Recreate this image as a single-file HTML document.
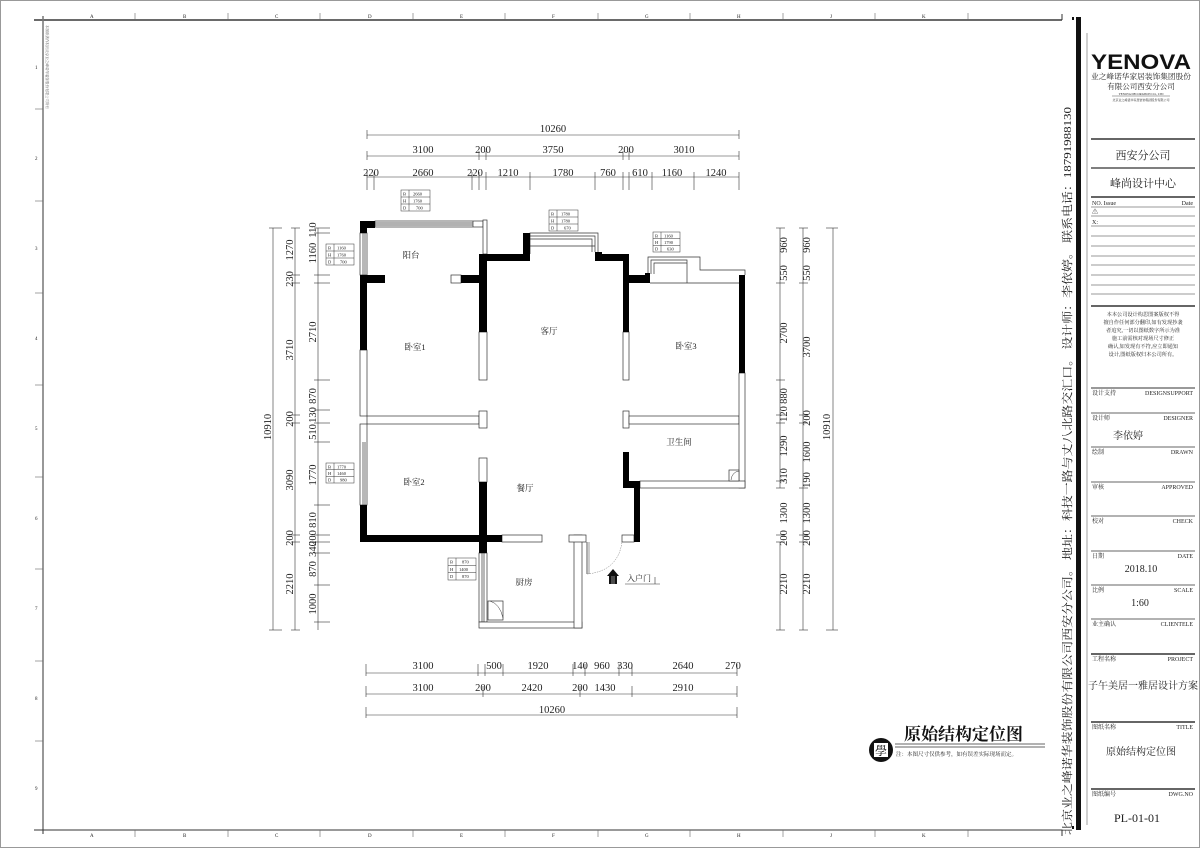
<!DOCTYPE html>
<html><head><meta charset="utf-8"><style>
html,body{margin:0;padding:0;background:#fff;}
svg{display:block;}
text{font-family:"Liberation Serif","Noto Serif CJK SC",serif;fill:#222;}
.d{font-size:10.5px;text-anchor:middle;}
.s{font-size:5px;}
.tb{font-size:6px;}
</style></head><body>
<svg width="1200" height="848" viewBox="0 0 1200 848" xmlns="http://www.w3.org/2000/svg">
<rect x="0.5" y="0.5" width="1199" height="847" fill="#fff" stroke="#999"/>
<!-- frame -->
<line x1="34" y1="20" x2="1062" y2="20" stroke="#111" stroke-width="1.2"/>
<line x1="43" y1="16" x2="43" y2="834" stroke="#777" stroke-width="1.5"/>
<line x1="34" y1="830" x2="1062" y2="830" stroke="#333" stroke-width="1"/>
<line x1="1062" y1="14" x2="1062" y2="20" stroke="#333"/>
<line x1="1062" y1="830" x2="1062" y2="836" stroke="#333"/>
<g stroke="#666" stroke-width="0.6">
<line x1="135" y1="13" x2="135" y2="20"/><line x1="228" y1="13" x2="228" y2="20"/><line x1="320" y1="13" x2="320" y2="20"/><line x1="413" y1="13" x2="413" y2="20"/><line x1="505" y1="13" x2="505" y2="20"/><line x1="598" y1="13" x2="598" y2="20"/><line x1="690" y1="13" x2="690" y2="20"/><line x1="783" y1="13" x2="783" y2="20"/><line x1="875" y1="13" x2="875" y2="20"/><line x1="968" y1="13" x2="968" y2="20"/>
<line x1="135" y1="830" x2="135" y2="837"/><line x1="228" y1="830" x2="228" y2="837"/><line x1="320" y1="830" x2="320" y2="837"/><line x1="413" y1="830" x2="413" y2="837"/><line x1="505" y1="830" x2="505" y2="837"/><line x1="598" y1="830" x2="598" y2="837"/><line x1="690" y1="830" x2="690" y2="837"/><line x1="783" y1="830" x2="783" y2="837"/><line x1="875" y1="830" x2="875" y2="837"/><line x1="968" y1="830" x2="968" y2="837"/>
<line x1="35" y1="109" x2="43" y2="109"/><line x1="35" y1="201" x2="43" y2="201"/><line x1="35" y1="293" x2="43" y2="293"/><line x1="35" y1="385" x2="43" y2="385"/><line x1="35" y1="477" x2="43" y2="477"/><line x1="35" y1="569" x2="43" y2="569"/><line x1="35" y1="661" x2="43" y2="661"/><line x1="35" y1="741" x2="43" y2="741"/>
</g>
<g class="s" fill="#777">
<text x="90" y="18">A</text><text x="183" y="18">B</text><text x="275" y="18">C</text><text x="368" y="18">D</text><text x="460" y="18">E</text><text x="552" y="18">F</text><text x="645" y="18">G</text><text x="737" y="18">H</text><text x="830" y="18">J</text><text x="922" y="18">K</text>
<text x="90" y="837">A</text><text x="183" y="837">B</text><text x="275" y="837">C</text><text x="368" y="837">D</text><text x="460" y="837">E</text><text x="552" y="837">F</text><text x="645" y="837">G</text><text x="737" y="837">H</text><text x="830" y="837">J</text><text x="922" y="837">K</text>
<text x="35" y="69">1</text><text x="35" y="160">2</text><text x="35" y="250">3</text><text x="35" y="340">4</text><text x="35" y="430">5</text><text x="35" y="520">6</text><text x="35" y="610">7</text><text x="35" y="700">8</text><text x="35" y="790">9</text>
</g>
<text x="46" y="25" transform="rotate(90 46 25)" style="font-size:3.5px;fill:#555">本图纸著作权归北京业之峰诺华装饰股份有限公司所有</text>
<!-- thick right black -->
<rect x="1076" y="17" width="5" height="813" fill="#111"/>
<rect x="1072" y="17" width="2" height="3" fill="#111"/>
<rect x="1072" y="826" width="2" height="3" fill="#111"/>
<line x1="1087" y1="33" x2="1087" y2="825" stroke="#888" stroke-width="0.8"/>
<text transform="translate(1071 835) rotate(-90)" style="font-size:11px" textLength="728" lengthAdjust="spacingAndGlyphs">北京业之峰诺华装饰股份有限公司西安分公司。 地址：科技一路与丈八北路交汇口。 设计师：李依婷。 联系电话：18791988130</text>

<!-- title block -->
<g>
<text x="1141" y="69" style="font-family:'Liberation Sans',sans-serif;font-size:21px;font-weight:bold;fill:#111" text-anchor="middle" textLength="100" lengthAdjust="spacingAndGlyphs">YENOVA</text>
<text x="1141" y="79" class="tb" text-anchor="middle" style="font-size:7.5px" textLength="100" lengthAdjust="spacingAndGlyphs">业之峰诺华家居装饰集团股份</text>
<text x="1141" y="89" class="tb" text-anchor="middle" style="font-size:7.5px">有限公司西安分公司</text>
<line x1="1112" y1="96" x2="1170" y2="96" stroke="#555" stroke-width="0.5"/>
<text x="1141" y="95" text-anchor="middle" style="font-size:3px">YENOVA DECORATION CO., LTD</text>
<text x="1141" y="101" text-anchor="middle" style="font-size:3px">北京业之峰诺华家居装饰集团股份有限公司</text>
<g stroke="#333">
<line x1="1091" y1="139" x2="1195" y2="139" stroke-width="1.5"/>
<line x1="1091" y1="168" x2="1195" y2="168" stroke-width="1.2"/>
<line x1="1091" y1="197" x2="1195" y2="197" stroke-width="1.5"/>
<line x1="1091" y1="207" x2="1195" y2="207" stroke-width="0.6"/>
<line x1="1091" y1="216" x2="1195" y2="216" stroke-width="0.6"/>
<line x1="1091" y1="226" x2="1195" y2="226" stroke-width="0.6"/>
<line x1="1091" y1="236" x2="1195" y2="236" stroke-width="0.6"/>
<line x1="1091" y1="246" x2="1195" y2="246" stroke-width="0.6"/>
<line x1="1091" y1="256" x2="1195" y2="256" stroke-width="0.6"/>
<line x1="1091" y1="265" x2="1195" y2="265" stroke-width="0.6"/>
<line x1="1091" y1="275" x2="1195" y2="275" stroke-width="0.6"/>
<line x1="1091" y1="285" x2="1195" y2="285" stroke-width="0.6"/>
<line x1="1091" y1="294" x2="1195" y2="294" stroke-width="0.6"/>
<line x1="1091" y1="306" x2="1195" y2="306" stroke-width="1.4"/>
<line x1="1091" y1="388" x2="1195" y2="388" stroke-width="1"/>
<line x1="1091" y1="413" x2="1195" y2="413" stroke-width="0.7"/>
<line x1="1091" y1="447" x2="1195" y2="447" stroke-width="0.7"/>
<line x1="1091" y1="482" x2="1195" y2="482" stroke-width="0.7"/>
<line x1="1091" y1="516" x2="1195" y2="516" stroke-width="0.7"/>
<line x1="1091" y1="551" x2="1195" y2="551" stroke-width="0.7"/>
<line x1="1091" y1="585" x2="1195" y2="585" stroke-width="0.7"/>
<line x1="1091" y1="619" x2="1195" y2="619" stroke-width="0.7"/>
<line x1="1091" y1="654" x2="1195" y2="654" stroke-width="1.5"/>
<line x1="1091" y1="722" x2="1195" y2="722" stroke-width="1.5"/>
<line x1="1091" y1="789" x2="1195" y2="789" stroke-width="1.5"/>
</g>
<text x="1143" y="159" text-anchor="middle" style="font-size:11px">西安分公司</text>
<text x="1143" y="187" text-anchor="middle" style="font-size:11px">峰尚设计中心</text>
<text x="1092" y="205" class="tb">NO. Issue</text><text x="1193" y="205" class="tb" text-anchor="end">Date</text>
<text x="1092" y="214" class="tb">⚠</text><text x="1092" y="224" class="tb">X:</text>
<g style="font-size:5.2px">
<text x="1143" y="316" text-anchor="middle">本本公司设计构思图案版权不得</text>
<text x="1143" y="324" text-anchor="middle">擅自作任何部分翻印,如有发现抄袭</text>
<text x="1143" y="332" text-anchor="middle">者追究,一切以图纸数字所示为准</text>
<text x="1143" y="340" text-anchor="middle">施工前需核对现场尺寸修正</text>
<text x="1143" y="348" text-anchor="middle">确认,如发现有不符,应立即通知</text>
<text x="1143" y="356" text-anchor="middle">设计,图纸版权归本公司所有。</text>
</g>
<g class="tb">
<text x="1092" y="395">设计支持</text><text x="1193" y="395" text-anchor="end">DESIGNSUPPORT</text>
<text x="1092" y="420">设计师</text><text x="1193" y="420" text-anchor="end">DESIGNER</text>
<text x="1092" y="454">绘制</text><text x="1193" y="454" text-anchor="end">DRAWN</text>
<text x="1092" y="489">审核</text><text x="1193" y="489" text-anchor="end">APPROVED</text>
<text x="1092" y="523">校对</text><text x="1193" y="523" text-anchor="end">CHECK</text>
<text x="1092" y="558">日期</text><text x="1193" y="558" text-anchor="end">DATE</text>
<text x="1092" y="592">比例</text><text x="1193" y="592" text-anchor="end">SCALE</text>
<text x="1092" y="626">业主确认</text><text x="1193" y="626" text-anchor="end">CLIENTELE</text>
<text x="1092" y="661">工程名称</text><text x="1193" y="661" text-anchor="end">PROJECT</text>
<text x="1092" y="729">图纸名称</text><text x="1193" y="729" text-anchor="end">TITLE</text>
<text x="1092" y="796">图纸编号</text><text x="1193" y="796" text-anchor="end">DWG.NO</text>
</g>
<text x="1128" y="439" text-anchor="middle" style="font-size:10px">李依婷</text>
<text x="1141" y="572" text-anchor="middle" style="font-size:10px">2018.10</text>
<text x="1140" y="606" text-anchor="middle" style="font-size:10px">1:60</text>
<text x="1143" y="689" text-anchor="middle" style="font-size:10px">子午美居一雅居设计方案</text>
<text x="1141" y="755" text-anchor="middle" style="font-size:10px">原始结构定位图</text>
<text x="1137" y="822" text-anchor="middle" style="font-size:12px">PL-01-01</text>
</g>

<!-- bottom title -->
<circle cx="881" cy="750" r="12" fill="#111"/>
<rect x="874" y="743" width="14" height="14" fill="#fff"/>
<text x="881" y="755" text-anchor="middle" style="font-size:12px;fill:#111">學</text>
<text x="904" y="740" style="font-size:17px;font-weight:bold;fill:#111">原始结构定位图</text>
<line x1="895" y1="744" x2="1045" y2="744" stroke="#333" stroke-width="0.8"/>
<line x1="895" y1="747" x2="1045" y2="747" stroke="#333" stroke-width="0.8"/>
<text x="896" y="756" style="font-size:5.5px">注：本图尺寸仅供参考，如有误差实际现场而定。</text>

<!-- top dimensions -->
<g stroke="#333" stroke-width="0.6">
<line x1="367" y1="135" x2="739" y2="135"/>
<line x1="367" y1="130" x2="367" y2="139"/><line x1="739" y1="130" x2="739" y2="139"/>
<line x1="367" y1="156" x2="739" y2="156"/>
<line x1="367" y1="151" x2="367" y2="160"/><line x1="479" y1="151" x2="479" y2="160"/><line x1="486" y1="151" x2="486" y2="160"/><line x1="623" y1="151" x2="623" y2="160"/><line x1="629" y1="151" x2="629" y2="160"/><line x1="739" y1="151" x2="739" y2="160"/>
<line x1="367" y1="177" x2="739" y2="177"/>
<line x1="367" y1="172" x2="367" y2="190"/><line x1="374" y1="172" x2="374" y2="190"/><line x1="472" y1="172" x2="472" y2="190"/><line x1="479" y1="172" x2="479" y2="190"/><line x1="486" y1="172" x2="486" y2="190"/><line x1="530" y1="172" x2="530" y2="190"/><line x1="595" y1="172" x2="595" y2="190"/><line x1="623" y1="172" x2="623" y2="190"/><line x1="629" y1="172" x2="629" y2="190"/><line x1="652" y1="172" x2="652" y2="190"/><line x1="694" y1="172" x2="694" y2="190"/><line x1="739" y1="172" x2="739" y2="190"/>
</g>
<g class="d">
<text x="553" y="132">10260</text>
<text x="423" y="153">3100</text><text x="483" y="153">200</text><text x="553" y="153">3750</text><text x="626" y="153">200</text><text x="684" y="153">3010</text>
<text x="371" y="176">220</text><text x="423" y="176">2660</text><text x="475" y="176">220</text><text x="508" y="176">1210</text><text x="563" y="176">1780</text><text x="608" y="176">760</text><text x="640" y="176">610</text><text x="672" y="176">1160</text><text x="716" y="176">1240</text>
</g>

<!-- bottom dimensions -->
<g stroke="#333" stroke-width="0.6">
<line x1="366" y1="673" x2="737" y2="673"/>
<line x1="366" y1="664" x2="366" y2="676"/><line x1="478" y1="664" x2="478" y2="676"/><line x1="485" y1="664" x2="485" y2="676"/><line x1="503" y1="664" x2="503" y2="676"/><line x1="573" y1="664" x2="573" y2="676"/><line x1="585" y1="664" x2="585" y2="676"/><line x1="619" y1="664" x2="619" y2="676"/><line x1="632" y1="664" x2="632" y2="676"/><line x1="737" y1="664" x2="737" y2="676"/>
<line x1="366" y1="694" x2="737" y2="694"/>
<line x1="366" y1="686" x2="366" y2="697"/><line x1="483" y1="686" x2="483" y2="697"/><line x1="580" y1="686" x2="580" y2="697"/><line x1="632" y1="686" x2="632" y2="697"/><line x1="737" y1="686" x2="737" y2="697"/>
<line x1="366" y1="715" x2="737" y2="715"/>
<line x1="366" y1="707" x2="366" y2="718"/><line x1="737" y1="707" x2="737" y2="718"/>
</g>
<g class="d">
<text x="423" y="669">3100</text><text x="494" y="669">500</text><text x="538" y="669">1920</text><text x="580" y="669">140</text><text x="602" y="669">960</text><text x="625" y="669">330</text><text x="683" y="669">2640</text><text x="733" y="669">270</text>
<text x="423" y="691">3100</text><text x="483" y="691">200</text><text x="532" y="691">2420</text><text x="580" y="691">200</text><text x="605" y="691">1430</text><text x="683" y="691">2910</text>
<text x="552" y="713">10260</text>
</g>

<!-- left dimensions -->
<g stroke="#333" stroke-width="0.6">
<line x1="273" y1="228" x2="273" y2="630"/>
<line x1="269" y1="228" x2="282" y2="228"/><line x1="269" y1="630" x2="282" y2="630"/>
<line x1="295" y1="228" x2="295" y2="630"/>
<line x1="291" y1="228" x2="300" y2="228"/><line x1="291" y1="275" x2="300" y2="275"/><line x1="291" y1="283" x2="300" y2="283"/><line x1="291" y1="415" x2="300" y2="415"/><line x1="291" y1="423" x2="300" y2="423"/><line x1="291" y1="535" x2="300" y2="535"/><line x1="291" y1="542" x2="300" y2="542"/><line x1="291" y1="630" x2="300" y2="630"/>
<line x1="318" y1="228" x2="318" y2="630"/>
<line x1="314" y1="228" x2="330" y2="228"/><line x1="314" y1="233" x2="330" y2="233"/><line x1="314" y1="275" x2="330" y2="275"/><line x1="314" y1="283" x2="330" y2="283"/><line x1="314" y1="380" x2="330" y2="380"/><line x1="314" y1="410" x2="330" y2="410"/><line x1="314" y1="423" x2="330" y2="423"/><line x1="314" y1="442" x2="330" y2="442"/><line x1="314" y1="505" x2="330" y2="505"/><line x1="314" y1="535" x2="330" y2="535"/><line x1="314" y1="542" x2="330" y2="542"/><line x1="314" y1="553" x2="330" y2="553"/><line x1="314" y1="585" x2="330" y2="585"/><line x1="314" y1="622" x2="330" y2="622"/>
</g>
<g class="d">
<text transform="translate(271 427) rotate(-90)">10910</text>
<text transform="translate(293 250) rotate(-90)">1270</text>
<text transform="translate(293 279) rotate(-90)">230</text>
<text transform="translate(293 350) rotate(-90)">3710</text>
<text transform="translate(293 419) rotate(-90)">200</text>
<text transform="translate(293 480) rotate(-90)">3090</text>
<text transform="translate(293 538) rotate(-90)">200</text>
<text transform="translate(293 584) rotate(-90)">2210</text>
<text transform="translate(316 230) rotate(-90)">110</text>
<text transform="translate(316 253) rotate(-90)">1160</text>
<text transform="translate(316 332) rotate(-90)">2710</text>
<text transform="translate(316 396) rotate(-90)">870</text>
<text transform="translate(316 415) rotate(-90)">130</text>
<text transform="translate(316 432) rotate(-90)">510</text>
<text transform="translate(316 475) rotate(-90)">1770</text>
<text transform="translate(316 520) rotate(-90)">810</text>
<text transform="translate(316 538) rotate(-90)">200</text>
<text transform="translate(316 549) rotate(-90)">340</text>
<text transform="translate(316 569) rotate(-90)">870</text>
<text transform="translate(316 604) rotate(-90)">1000</text>
</g>

<!-- right dimensions -->
<g stroke="#333" stroke-width="0.6">
<line x1="780" y1="228" x2="780" y2="488"/><line x1="780" y1="542" x2="780" y2="630"/>
<line x1="776" y1="228" x2="785" y2="228"/><line x1="776" y1="283" x2="785" y2="283"/><line x1="776" y1="380" x2="785" y2="380"/><line x1="776" y1="415" x2="785" y2="415"/><line x1="776" y1="423" x2="785" y2="423"/><line x1="776" y1="481" x2="785" y2="481"/><line x1="776" y1="488" x2="785" y2="488"/><line x1="776" y1="535" x2="785" y2="535"/><line x1="776" y1="542" x2="785" y2="542"/><line x1="776" y1="630" x2="785" y2="630"/>
<line x1="803" y1="228" x2="803" y2="630"/>
<line x1="799" y1="228" x2="808" y2="228"/><line x1="799" y1="283" x2="808" y2="283"/><line x1="799" y1="415" x2="808" y2="415"/><line x1="799" y1="423" x2="808" y2="423"/><line x1="799" y1="488" x2="808" y2="488"/><line x1="799" y1="535" x2="808" y2="535"/><line x1="799" y1="542" x2="808" y2="542"/><line x1="799" y1="630" x2="808" y2="630"/>
<line x1="833" y1="228" x2="833" y2="630"/>
<line x1="826" y1="228" x2="838" y2="228"/><line x1="826" y1="630" x2="838" y2="630"/>
</g>
<g class="d">
<text transform="translate(787 245) rotate(-90)">960</text>
<text transform="translate(787 273) rotate(-90)">550</text>
<text transform="translate(787 333) rotate(-90)">2700</text>
<text transform="translate(787 396) rotate(-90)">880</text>
<text transform="translate(787 414) rotate(-90)">120</text>
<text transform="translate(787 446) rotate(-90)">1290</text>
<text transform="translate(787 476) rotate(-90)">310</text>
<text transform="translate(787 513) rotate(-90)">1300</text>
<text transform="translate(787 538) rotate(-90)">200</text>
<text transform="translate(787 584) rotate(-90)">2210</text>
<text transform="translate(810 245) rotate(-90)">960</text>
<text transform="translate(810 273) rotate(-90)">550</text>
<text transform="translate(810 347) rotate(-90)">3700</text>
<text transform="translate(810 418) rotate(-90)">200</text>
<text transform="translate(810 452) rotate(-90)">1600</text>
<text transform="translate(810 480) rotate(-90)">190</text>
<text transform="translate(810 513) rotate(-90)">1300</text>
<text transform="translate(810 538) rotate(-90)">200</text>
<text transform="translate(810 584) rotate(-90)">2210</text>
<text transform="translate(830 427) rotate(-90)">10910</text>
</g>

<!-- outlined walls -->
<g fill="#fff" stroke="#333" stroke-width="0.7">
<rect x="375" y="221" width="108" height="6"/>
<line x1="375" y1="223" x2="473" y2="223"/><line x1="375" y1="225" x2="473" y2="225"/>
<line x1="473" y1="221" x2="473" y2="227"/>
<rect x="483" y="220" width="4" height="34"/>
<rect x="360" y="233" width="7" height="42"/><line x1="363" y1="233" x2="363" y2="275"/><line x1="365" y1="233" x2="365" y2="275"/>
<rect x="451" y="275" width="10" height="8"/>
<rect x="360" y="350" width="7" height="66"/>
<rect x="367" y="416" width="112" height="8"/>
<rect x="479" y="411" width="8" height="17"/>
<rect x="360" y="424" width="7" height="81"/><line x1="363" y1="442" x2="363" y2="505"/><line x1="365" y1="442" x2="365" y2="505"/>
<rect x="479" y="332" width="8" height="48"/>
<rect x="623" y="332" width="6" height="48"/>
<rect x="623" y="411" width="6" height="17"/>
<rect x="629" y="416" width="110" height="8"/>
<rect x="739" y="373" width="6" height="115"/>
<rect x="640" y="481" width="105" height="7"/>
<rect x="479" y="458" width="8" height="24"/>
<rect x="502" y="535" width="40" height="7"/>
<rect x="479" y="553" width="8" height="69"/><line x1="482" y1="553" x2="482" y2="622"/><line x1="484" y1="553" x2="484" y2="622"/>
<rect x="479" y="622" width="103" height="6"/>
<rect x="574" y="535" width="8" height="93"/>
<rect x="569" y="535" width="17" height="7"/>
<rect x="622" y="535" width="12" height="7"/>
<polyline points="530,254 530,233 598,233 598,252" fill="none"/>
<polyline points="530,236 595,236 595,252" fill="none"/>
<polyline points="530,239 592,239 592,252" fill="none"/>
<line x1="530" y1="246" x2="595" y2="246"/>
<polyline points="648,275 648,257 700,257 700,270 745,270 745,275" fill="none"/>
<polyline points="651,274 651,260 687,260 687,283" fill="none"/>
<polyline points="654,274 654,263 687,263" fill="none"/>
<line x1="650" y1="283" x2="739" y2="283"/>
<rect x="488" y="601" width="15" height="19"/>
<rect x="729" y="470" width="10" height="11"/>
</g>
<path d="M490 601 Q500 604 503 618" fill="none" stroke="#333" stroke-width="0.5"/>
<path d="M731 480 Q732 472 739 471" fill="none" stroke="#333" stroke-width="0.5"/>

<!-- structural walls -->
<g fill="#000">
<rect x="360" y="221" width="15" height="7"/>
<rect x="360" y="221" width="7" height="12"/>
<rect x="360" y="275" width="25" height="8"/>
<rect x="360" y="275" width="7" height="75"/>
<rect x="360" y="505" width="7" height="37"/>
<rect x="360" y="535" width="142" height="7"/>
<rect x="479" y="482" width="8" height="71"/>
<rect x="479" y="254" width="8" height="78"/>
<rect x="461" y="275" width="26" height="8"/>
<rect x="479" y="254" width="51" height="7"/>
<rect x="523" y="233" width="7" height="28"/>
<rect x="595" y="254" width="34" height="7"/>
<rect x="595" y="252" width="7" height="9"/>
<rect x="623" y="254" width="6" height="78"/>
<rect x="629" y="275" width="21" height="8"/>
<rect x="645" y="273" width="5" height="10"/>
<rect x="739" y="275" width="6" height="98"/>
<rect x="623" y="452" width="6" height="29"/>
<rect x="623" y="481" width="17" height="7"/>
<rect x="634" y="481" width="6" height="61"/>
</g>

<!-- door -->
<line x1="587" y1="542" x2="587" y2="574" stroke="#333" stroke-width="0.8"/>
<line x1="589" y1="542" x2="589" y2="574" stroke="#333" stroke-width="0.5"/>
<path d="M587 574 Q618 571 622 542" fill="none" stroke="#777" stroke-width="0.5" stroke-dasharray="1.5 1"/>
<!-- entry arrow -->
<path d="M613 569 L607 576 L609 576 L609 584 L617 584 L617 576 L619 576 Z" fill="#111"/>
<line x1="612" y1="576" x2="612" y2="584" stroke="#fff" stroke-width="0.5"/>
<line x1="614" y1="576" x2="614" y2="584" stroke="#fff" stroke-width="0.5"/>
<line x1="625" y1="584" x2="660" y2="584" stroke="#333" stroke-width="0.6"/>
<line x1="655" y1="577" x2="655" y2="584" stroke="#333" stroke-width="0.6"/>
<text x="627" y="581" style="font-size:8px">入户门</text>

<!-- room labels -->
<g style="font-size:8.5px" text-anchor="middle">
<text x="411" y="258">阳台</text>
<text x="415" y="350">卧室1</text>
<text x="549" y="334">客厅</text>
<text x="686" y="349">卧室3</text>
<text x="679" y="445">卫生间</text>
<text x="414" y="485">卧室2</text>
<text x="525" y="491">餐厅</text>
<text x="524" y="585">厨房</text>
</g>

<!-- window tags -->
<g style="font-size:4.5px" stroke-width="0.5">
<g transform="translate(401 190)"><rect width="29" height="21" fill="#fff" stroke="#333"/><line x1="0" y1="7" x2="29" y2="7" stroke="#333"/><line x1="0" y1="14" x2="29" y2="14" stroke="#333"/><line x1="8" y1="0" x2="8" y2="21" stroke="#333"/><text x="2" y="5.5">B</text><text x="2" y="12.5">H</text><text x="2" y="19.5">D</text><text x="12" y="5.5">2660</text><text x="12" y="12.5">1760</text><text x="15" y="19.5">700</text></g>
<g transform="translate(549 210)"><rect width="29" height="21" fill="#fff" stroke="#333"/><line x1="0" y1="7" x2="29" y2="7" stroke="#333"/><line x1="0" y1="14" x2="29" y2="14" stroke="#333"/><line x1="8" y1="0" x2="8" y2="21" stroke="#333"/><text x="2" y="5.5">B</text><text x="2" y="12.5">H</text><text x="2" y="19.5">D</text><text x="12" y="5.5">1780</text><text x="12" y="12.5">1780</text><text x="15" y="19.5">670</text></g>
<g transform="translate(653 232)"><rect width="27" height="20" fill="#fff" stroke="#333"/><line x1="0" y1="6.7" x2="27" y2="6.7" stroke="#333"/><line x1="0" y1="13.3" x2="27" y2="13.3" stroke="#333"/><line x1="8" y1="0" x2="8" y2="20" stroke="#333"/><text x="2" y="5.5">B</text><text x="2" y="12">H</text><text x="2" y="18.5">D</text><text x="11" y="5.5">1160</text><text x="11" y="12">1790</text><text x="14" y="18.5">630</text></g>
<g transform="translate(326 244)"><rect width="28" height="21" fill="#fff" stroke="#333"/><line x1="0" y1="7" x2="28" y2="7" stroke="#333"/><line x1="0" y1="14" x2="28" y2="14" stroke="#333"/><line x1="8" y1="0" x2="8" y2="21" stroke="#333"/><text x="2" y="5.5">B</text><text x="2" y="12.5">H</text><text x="2" y="19.5">D</text><text x="11" y="5.5">1160</text><text x="11" y="12.5">1760</text><text x="14" y="19.5">700</text></g>
<g transform="translate(326 463)"><rect width="28" height="20" fill="#fff" stroke="#333"/><line x1="0" y1="6.7" x2="28" y2="6.7" stroke="#333"/><line x1="0" y1="13.3" x2="28" y2="13.3" stroke="#333"/><line x1="8" y1="0" x2="8" y2="20" stroke="#333"/><text x="2" y="5.5">B</text><text x="2" y="12">H</text><text x="2" y="18.5">D</text><text x="11" y="5.5">1770</text><text x="11" y="12">1460</text><text x="14" y="18.5">980</text></g>
<g transform="translate(448 558)"><rect width="28" height="22" fill="#fff" stroke="#333"/><line x1="0" y1="7.3" x2="28" y2="7.3" stroke="#333"/><line x1="0" y1="14.6" x2="28" y2="14.6" stroke="#333"/><line x1="8" y1="0" x2="8" y2="22" stroke="#333"/><text x="2" y="5.5">B</text><text x="2" y="13">H</text><text x="2" y="20">D</text><text x="14" y="5.5">870</text><text x="11" y="13">1400</text><text x="14" y="20">870</text></g>
</g>
</svg>
</body></html>
